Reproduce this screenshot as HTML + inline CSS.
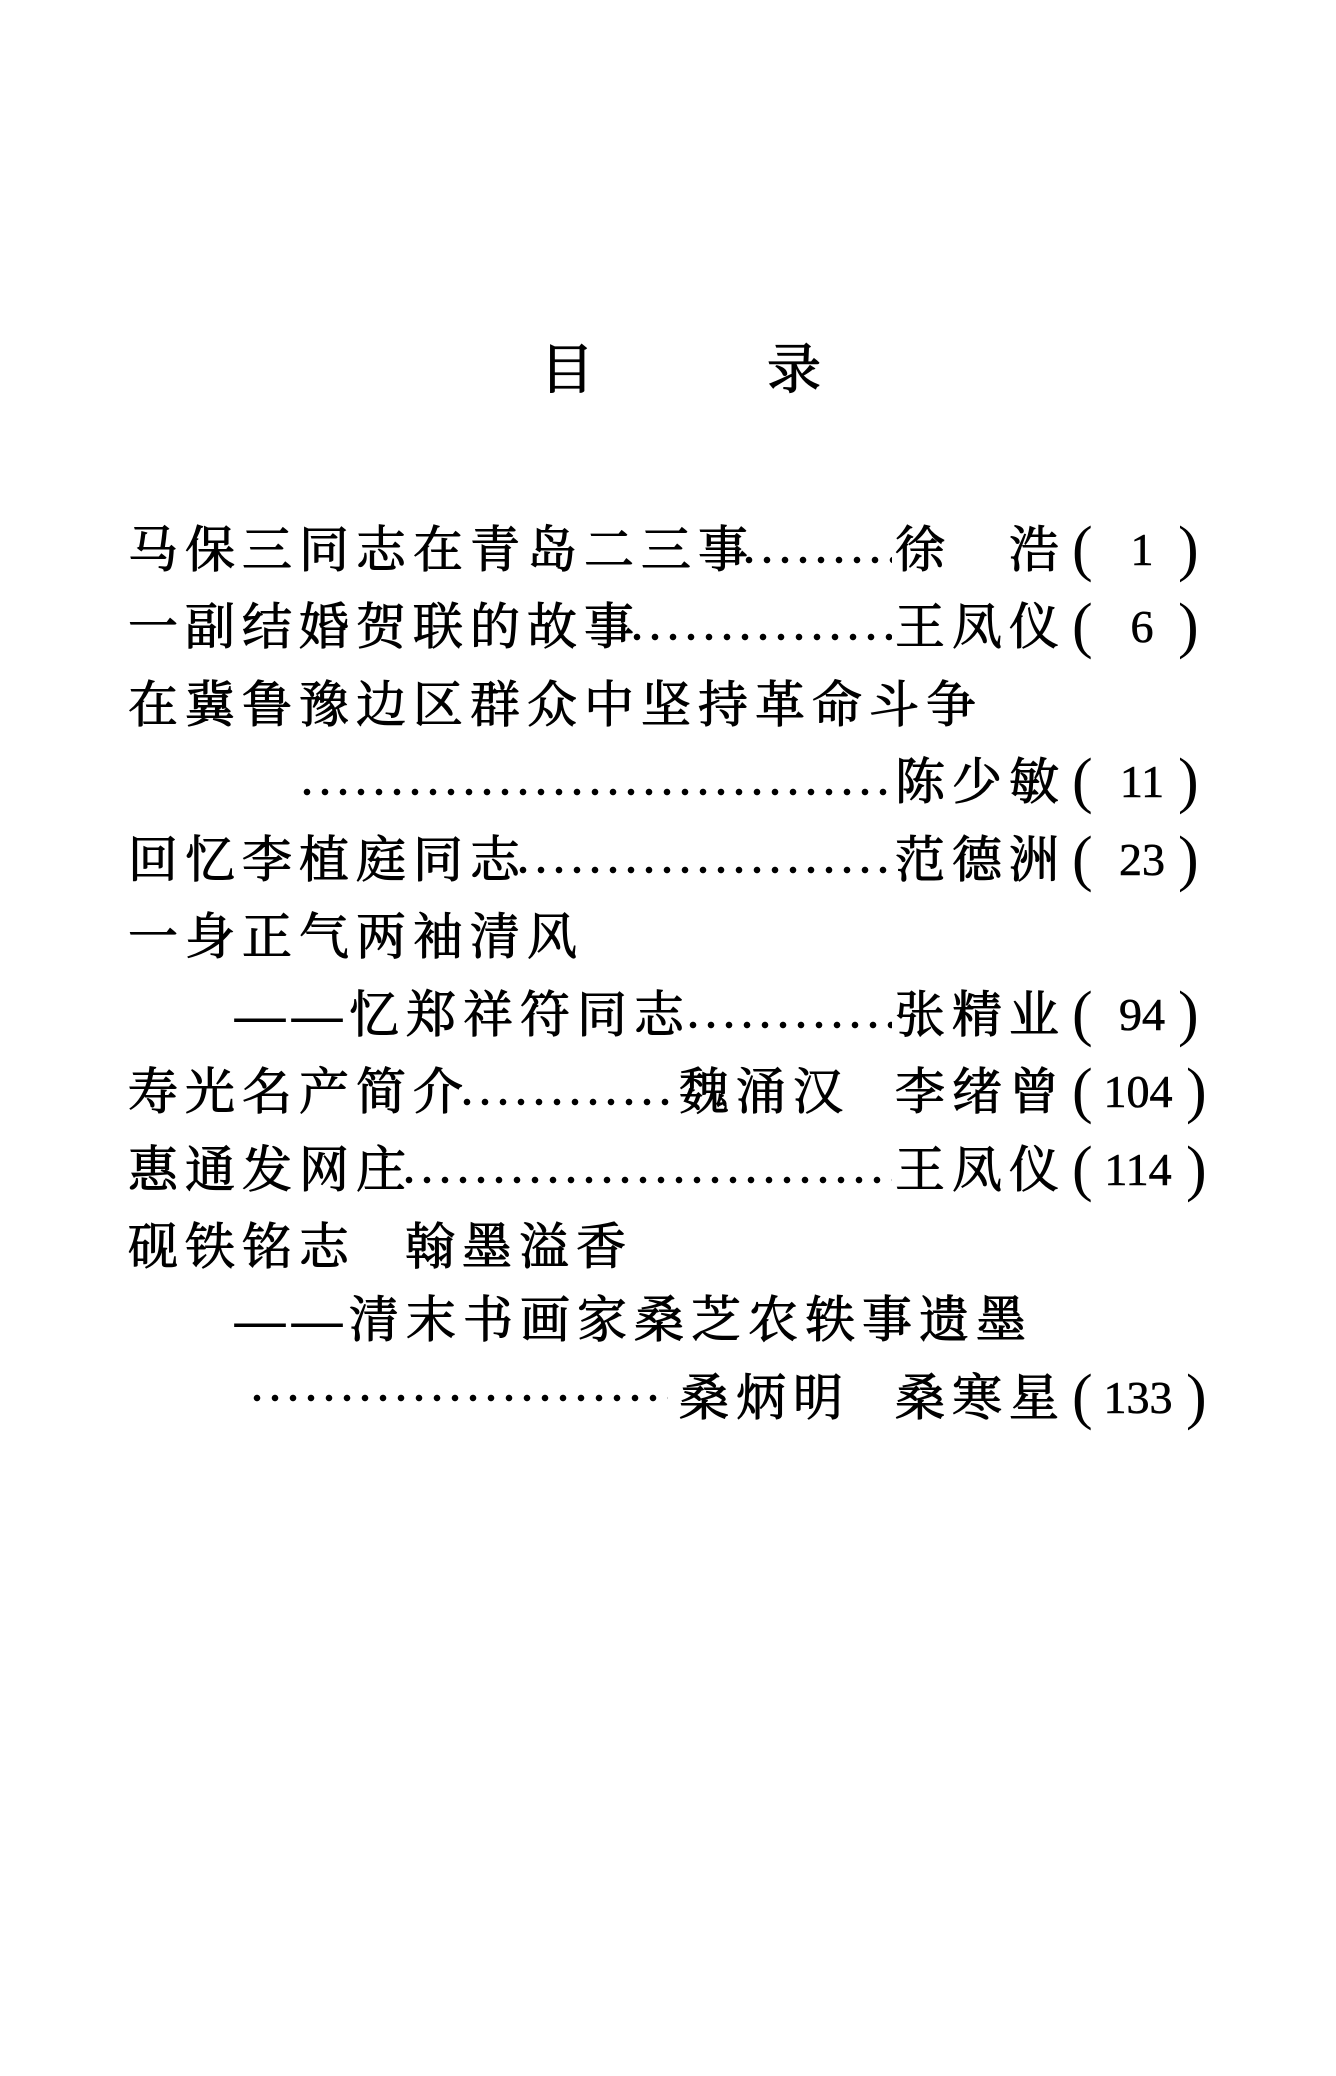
<!DOCTYPE html>
<html><head><meta charset="utf-8"><style>
html,body{margin:0;padding:0;background:#fff;}
body{width:1336px;height:2076px;position:relative;overflow:hidden;font-family:"Liberation Serif","Noto Serif CJK SC",serif;color:#000;}
.t{position:absolute;font-size:54px;line-height:60px;top:340px;-webkit-text-stroke:1.2px #000;}
.r{position:absolute;height:60px;line-height:60px;font-size:50px;letter-spacing:7px;white-space:nowrap;-webkit-text-stroke:1px #000;}
.d{position:absolute;height:8px;background-image:radial-gradient(circle,#000 3px,transparent 3.5px);background-size:18px 8px;background-repeat:repeat-x;}
.p{position:absolute;height:60px;line-height:58px;font-size:62px;font-family:"Liberation Serif",serif;}
.n{position:absolute;height:60px;line-height:60px;font-size:46px;font-family:"Liberation Serif",serif;-webkit-text-stroke:0.6px #000;text-align:center;width:96px;left:1094px;}
</style></head><body>
<div class="t" style="left:540px">目</div>
<div class="t" style="left:767px">录</div>

<div class="r" style="left:128px;top:520px">马保三同志在青岛二三事</div>
<div class="d" style="left:740px;width:152px;top:556px"></div>
<div class="r" style="left:895px;top:520px">徐　浩</div>
<div class="p" style="left:1072px;top:520px">(</div><div class="n" style="top:520px">1</div><div class="p" style="left:1178px;top:520px">)</div>

<div class="r" style="left:128px;top:597px">一副结婚贺联的故事</div>
<div class="d" style="left:628px;width:264px;top:633px"></div>
<div class="r" style="left:895px;top:597px">王凤仪</div>
<div class="p" style="left:1072px;top:597px">(</div><div class="n" style="top:597px">6</div><div class="p" style="left:1178px;top:597px">)</div>

<div class="r" style="left:128px;top:675px">在冀鲁豫边区群众中坚持革命斗争</div>

<div class="d" style="left:298px;width:594px;top:788px"></div>
<div class="r" style="left:895px;top:752px">陈少敏</div>
<div class="p" style="left:1072px;top:752px">(</div><div class="n" style="top:752px">11</div><div class="p" style="left:1178px;top:752px">)</div>

<div class="r" style="left:128px;top:830px">回忆李植庭同志</div>
<div class="d" style="left:514px;width:378px;top:866px"></div>
<div class="r" style="left:895px;top:830px">范德洲</div>
<div class="p" style="left:1072px;top:830px">(</div><div class="n" style="top:830px">23</div><div class="p" style="left:1178px;top:830px">)</div>

<div class="r" style="left:128px;top:907px">一身正气两袖清风</div>

<div class="r" style="left:235px;top:985px">——忆郑祥符同志</div>
<div class="d" style="left:684px;width:208px;top:1021px"></div>
<div class="r" style="left:895px;top:985px">张精业</div>
<div class="p" style="left:1072px;top:985px">(</div><div class="n" style="top:985px">94</div><div class="p" style="left:1178px;top:985px">)</div>

<div class="r" style="left:128px;top:1062px">寿光名产简介</div>
<div class="d" style="left:458px;width:216px;top:1098px"></div>
<div class="r" style="left:679px;top:1062px">魏涌汉</div>
<div class="r" style="left:895px;top:1062px">李绪曾</div>
<div class="p" style="left:1072px;top:1062px">(</div><div class="n" style="top:1062px;left:1094px;width:88px">104</div><div class="p" style="left:1186px;top:1062px">)</div>

<div class="r" style="left:128px;top:1140px">惠通发网庄</div>
<div class="d" style="left:400px;width:492px;top:1176px"></div>
<div class="r" style="left:895px;top:1140px">王凤仪</div>
<div class="p" style="left:1072px;top:1140px">(</div><div class="n" style="top:1140px;left:1094px;width:88px">114</div><div class="p" style="left:1186px;top:1140px">)</div>

<div class="r" style="left:128px;top:1217px">砚铁铭志</div>
<div class="r" style="left:405px;top:1217px">翰墨溢香</div>

<div class="r" style="left:235px;top:1290px">——清末书画家桑芝农轶事遗墨</div>

<div class="d" style="left:248px;width:420px;top:1394px"></div>
<div class="r" style="left:679px;top:1368px">桑炳明</div>
<div class="r" style="left:895px;top:1368px">桑寒星</div>
<div class="p" style="left:1072px;top:1368px">(</div><div class="n" style="top:1368px;left:1094px;width:88px">133</div><div class="p" style="left:1186px;top:1368px">)</div>
</body></html>
